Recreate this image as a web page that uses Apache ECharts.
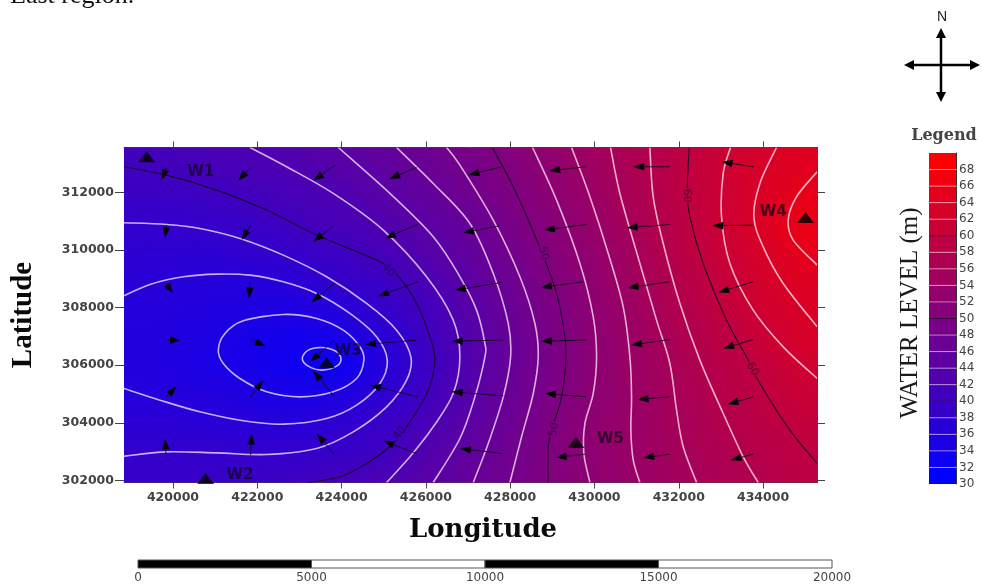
<!DOCTYPE html>
<html>
<head>
<meta charset="utf-8">
<style>html,body{margin:0;padding:0;background:#fff}#c{width:982px;height:585px}</style>
<script src="https://cdn.jsdelivr.net/npm/echarts@6/dist/echarts.min.js"></script>
</head>
<body>
<div id="c"></div>
<script>
// ---- axes ----
const xTicks = [420000,422000,424000,426000,428000,430000,432000,434000];
const yTicks = [302000,304000,306000,308000,310000,312000];
const xRange = [418838,435280];
const yRange = [301930,313555];
const legendTicks = [30,32,34,36,38,40,42,44,46,48,50,52,54,56,58,60,62,64,66,68];
const legendBands = [30,32,34,36,38,40,42,44,46,48,50,52,54,56,58,60,62,64,66,68];
const scaleTicks = [0,5000,10000,15000,20000];
const scaleSegments = [[0,5000,1],[5000,10000,0],[10000,15000,1],[15000,20000,0]];

const gridX = [419000,420000,421000,422000,423000,424000,425000,426000,427000,428000,429000,430000,431000,432000,433000,434000,435000];
const gridY = [302000,303000,304000,305000,306000,307000,308000,309000,310000,311000,312000,313000,313500];
const lvl302000 = [38.8,38.9,39.0,39.3,39.9,40.8,42,43.8,45.8,48,50.2,52.2,53.9,55.4,56.8,58.1,59.2];
const lvl303000 = [37.8,38,37.9,37.8,37.9,38.7,40,42.6,45,47.5,50.2,52.5,54.2,55.8,57.4,58.7,59.9];
const lvl304000 = [36.6,36.6,36.3,36.05,36,37.3,38.9,41.3,44.2,47,49.9,52.3,54.2,56,57.8,59.2,60.5];
const lvl305000 = [35.6,35.4,35.2,34.3,33.8,34.5,37.1,40,43.3,46.4,49.3,52.1,54.2,56.2,58.2,59.9,61.7];
const lvl306000 = [35.3,34.8,33.9,33.3,32.2,32,35.7,39.3,42.6,46,49,51.9,54.3,56.5,58.8,60.6,62.5];
const lvl307000 = [35.3,35,34.3,33.4,33,33.8,36.3,39.7,42.8,46.05,49.1,52,54.5,57.1,59.3,61.7,63.7];
const lvl308000 = [35.7,35.4,35,34.5,34.6,35.9,38.4,40.3,43.5,46.5,49.5,52.3,54.9,57.8,60,62.6,64.1];
const lvl309000 = [36.5,36,35.8,35.9,36.7,38.3,39.4,41.9,44.3,47.1,50.1,52.6,55.5,58.3,60.8,63.2,65];
const lvl310000 = [37.2,37.1,37.1,37.7,38.7,39.7,41.3,43.2,45.3,48.1,50.7,53.2,56,58.9,61.5,63.9,66.1];
const lvl311000 = [38.1,38.2,38.5,39.2,40.3,41.3,42.6,44.3,46,48.9,51.3,53.8,56.6,59.2,61.9,64.5,67];
const lvl312000 = [39.2,39.4,39.9,40.6,41.4,42.3,43.8,45.4,47.5,49.7,52,54.4,57,59.5,61.9,64.2,66.3];
const lvl313000 = [40.1,40.5,41,41.7,42.5,43.6,45,46.6,48.4,50.4,52.6,55,57.2,59.5,61.8,63.9,65.3];
const lvl313500 = [40.6,41,41.5,42.1,43.1,44.1,45.5,47.1,48.9,50.8,53,55.2,57.3,59.5,61.6,63.4,65];
const levelRows = [lvl302000,lvl303000,lvl304000,lvl305000,lvl306000,lvl307000,lvl308000,lvl309000,lvl310000,lvl311000,lvl312000,lvl313000,lvl313500];

// ---- contours, [longitude, latitude] ----
const contour32 = [[423068,306234],[423210,306523],[423526,306615],[423842,306500],[423985,306234],[423882,305967],[423526,305829],[423210,305967],[423068,306234]];
const contour34 = [[421075,306523],[421233,307101],[421668,307541],[422617,307761],[423408,307622],[424040,307217],[424435,306638],[424530,306176],[424357,305539],[423803,305077],[423012,304903],[422222,305077],[421589,305539],[421194,306060],[421075,306523]];
const contour36 = [[418837,308409],[419454,308802],[420245,309068],[421035,309161],[421826,309126],[422617,308895],[423408,308490],[424198,307796],[424831,306986],[425084,306176],[424910,305366],[424357,304614],[423645,304151],[422617,303954],[421668,304070],[420640,304382],[419691,304787],[418837,305192]];
const contour38 = [[418837,310942],[419849,310885],[420640,310746],[421589,310399],[422617,309820],[423645,309068],[424594,308143],[425305,307217],[425645,306291],[425542,305481],[425068,304556],[424277,303688],[423408,303110],[422222,302901],[421035,302959],[419849,302994],[418837,302844]];
const contour40 = [[418837,312886],[419849,312597],[421035,312076],[422222,311382],[423408,310515],[424910,309589],[425384,309010],[425780,308143],[426096,306986],[426215,306176],[426056,305134],[425701,304209],[425226,303283],[424594,302589],[423961,302126],[423210,301930]];
const contour42 = [[421826,313555],[422696,312886],[423803,311961],[424989,310688],[426017,309068],[426649,307564],[426807,306291],[426649,305019],[426175,303862],[425622,302820],[425068,301930]];
const contour44 = [[423922,313555],[425147,311961],[426175,310457],[426808,309068],[427203,307911],[427401,306754],[427401,306291],[427164,304903],[426808,303457],[426175,301930]];
const contour46 = [[425305,313555],[426175,312308],[427045,310919],[427599,309184],[427955,307448],[428010,306291],[427836,304903],[427480,303283],[427124,301930]];
const contour48 = [[426492,313555],[426808,312944],[427599,311035],[428231,309068],[428587,307448],[428666,306291],[428548,305019],[428271,303515],[427994,301930]];
const contour50 = [[427575,313555],[428073,312192],[428666,310225],[429101,308490],[429299,306986],[429322,306176],[429220,304903],[428982,303746],[428903,303168],[428903,301930]];
const contour52 = [[428532,313555],[429101,311729],[429655,309531],[429971,307680],[430050,306291],[429971,305019],[429773,303977],[429749,302936],[429892,301930]];
const contour54 = [[429457,313555],[429892,311845],[430327,309878],[430682,308027],[430841,306291],[430880,304903],[430864,303746],[430920,302705],[431078,301930]];
const contour56 = [[430382,313555],[430603,311961],[431078,309531],[431473,307564],[431789,306060],[431948,304440],[432106,303168],[432422,301930]];
const contour58 = [[431315,313555],[431394,311845],[431631,310225],[432027,308143],[432501,306176],[433055,304324],[433529,302820],[433885,301930]];
const contour60 = [[432248,313555],[432201,312076],[432264,311151],[432580,309531],[433134,307564],[433608,306291],[433925,305366],[434636,303746],[435284,302589]];
const contour62 = [[433228,313555],[433055,312655],[433015,311151],[433213,309531],[433766,307911],[434478,306638],[435284,305540]];
const contour64 = [[434320,313555],[433925,312308],[433782,311151],[434003,310109],[434478,308837],[435284,307333]];
const contour66 = [[435284,312713],[434794,311845],[434596,311035],[434715,310341],[435284,309473]];
const contourLevels = [32,34,36,38,40,42,44,46,48,50,52,54,56,58,60,62,64,66];
const contourLines = [contour32,contour34,contour36,contour38,contour40,contour42,contour44,contour46,contour48,contour50,contour52,contour54,contour56,contour58,contour60,contour62,contour64,contour66];
// [lon, lat, text, level, angle]
const contourLabels = [[425108,309300,'40',40,-50],[425384,303653,'40',40,50],[428785,309878,'50',50,-75],[429046,303769,'50',50,80],[432185,311880,'60',60,-90],[433750,305863,'60',60,-60]];

// ---- flow arrows: [tail lon, tail lat, head lon, head lat] ----
const flowRow1 = [[419849,312863,419731,312424],[421842,312863,421549,312400],[423842,312944,423328,312400],[425780,312863,425131,312458],[427796,312886,427006,312597],[429797,312886,428927,312747],[431789,312886,430920,312886],[433782,312886,433015,313060]];
const flowRow2 = [[419849,310862,419810,310422],[421842,310862,421628,310341],[423803,310838,423328,310283],[425819,310896,425029,310399],[427741,310838,426887,310595],[429813,310885,428801,310688],[431789,310885,430762,310769],[433766,310862,432794,310838]];
const flowRow3 = [[419834,308837,419992,308513],[421826,308895,421810,308316],[423842,308860,423289,308189],[425819,308895,424870,308397],[427796,308871,426689,308605],[429734,308895,428729,308698],[431789,308895,430785,308686],[433766,308895,432936,308524]];
const flowRow4 = [[419889,306870,420166,306870],[421842,306893,422206,306662],[423827,306870,423249,306118],[425780,306870,424554,306720],[427836,306870,426610,306835],[429797,306870,428729,306835],[431789,306893,430864,306696],[433766,306893,433055,306581]];
const flowRow5 = [[419834,304903,420087,305273],[421842,304903,422142,305481],[423803,304961,423328,305805],[425819,304903,424673,305308],[427836,304938,426610,305077],[429797,304903,428824,305019],[431789,304903,431022,304810],[433782,304903,433157,304648]];
const flowRow6 = [[419834,302913,419810,303457],[421842,302878,421866,303630],[423827,302913,423408,303630],[425780,302936,424989,303376],[427820,302936,426808,303110],[429773,302913,429077,302797],[431789,302913,431157,302786],[433766,302913,433228,302705]];

// ---- wells ----
const wells = [[419375,313233],[420775,302068],[423645,306083],[435008,311128],[429560,303318]];
const wellNames = ['W1','W2','W3','W4','W5'];
const wellNamePos = [[420656,312713],[421589,302184],[424159,306500],[434241,311324],[430382,303422]];

// ---- helpers ----
function ramp(v){
  const t = Math.max(0,Math.min(1,(v-30)/40));
  return 'rgb('+Math.round(255*t)+',0,'+Math.round(255*(1-t))+')';
}
const LON = xRange, LAT = yRange;

const fieldSeries = {
  type:'custom', xAxisIndex:0, yAxisIndex:0, z:1, silent:true, animation:false,
  data: gridY.slice(0,-1).map((y,i)=>[i]),
  encode:{x:[],y:[]},
  renderItem(params, api){
    const i = api.value(0);
    const children = [];
    const x0 = api.coord([gridX[0],gridY[0]])[0];
    const x1 = api.coord([gridX[gridX.length-1],gridY[0]])[0];
    const left = api.coord([LON[0],gridY[0]])[0];
    const right = api.coord([LON[1],gridY[0]])[0];
    const yLow = i===0 ? LAT[0] : gridY[i];
    const yHigh = i===gridY.length-2 ? LAT[1] : gridY[i+1];
    const pyLow = api.coord([LON[0],yLow])[1];
    const pyHigh = api.coord([LON[0],yHigh])[1];
    const n = Math.max(1,Math.ceil((pyLow-pyHigh)/3));
    for(let k=0;k<n;k++){
      const f = Math.max(0,Math.min(1,((yLow+(yHigh-yLow)*(k+0.5)/n)-gridY[i])/(gridY[i+1]-gridY[i])));
      const stops = gridX.map((x,c)=>({
        offset:c/(gridX.length-1),
        color:ramp(levelRows[i][c]*(1-f)+levelRows[i+1][c]*f)
      }));
      const top = pyLow+(pyHigh-pyLow)*(k+1)/n;
      const bot = pyLow+(pyHigh-pyLow)*k/n;
      children.push({type:'rect',silent:true,
        shape:{x:left,y:top,width:right-left,height:bot-top+(k===0&&i===0?0:0.8)},
        style:{fill:new echarts.graphic.LinearGradient(x0,0,x1,0,stops,true)}});
    }
    return {type:'group',children};
  }
};

function splinePath(pts){
  const closed = pts[0][0]===pts[pts.length-1][0] && pts[0][1]===pts[pts.length-1][1];
  const n = pts.length;
  const at = i => closed ? pts[((i%(n-1))+(n-1))%(n-1)] : pts[Math.max(0,Math.min(n-1,i))];
  let d = 'M'+pts[0][0]+' '+pts[0][1];
  for(let i=0;i<n-1;i++){
    const p0=at(i-1),p1=at(i),p2=at(i+1),p3=at(i+2);
    d += 'C'+(p1[0]+(p2[0]-p0[0])/6)+' '+(p1[1]+(p2[1]-p0[1])/6)+' '+
             (p2[0]-(p3[0]-p1[0])/6)+' '+(p2[1]-(p3[1]-p1[1])/6)+' '+p2[0]+' '+p2[1];
  }
  return d;
}
const contourSeries = {
  type:'custom',name:'contours',xAxisIndex:0,yAxisIndex:0,z:2,silent:true,animation:false,
  data:contourLevels.map((lv,i)=>[i,lv]),encode:{x:[],y:[]},
  renderItem(params,api){
    const i=api.value(0),lv=api.value(1),major=lv%10===0;
    const pix=contourLines[i].map(p=>api.coord(p));
    const cs=params.coordSys;
    return {type:'path',silent:true,
      shape:{pathData:splinePath(pix)},
      style:{fill:'none',stroke:major?'rgba(25,0,35,0.9)':'rgba(255,235,245,0.75)',lineWidth:major?1.1:1.6},
      clipPath:{type:'rect',shape:{x:cs.x,y:cs.y,width:cs.width,height:cs.height}}};
  }
};

const contourLabelSeries = {
  type:'scatter',xAxisIndex:0,yAxisIndex:0,z:3,symbolSize:0,silent:true,animation:false,
  data:contourLabels.map(l=>({value:[l[0],l[1]],label:{
    show:true,position:'inside',formatter:l[2],rotate:l[4],color:'rgba(30,0,50,0.8)',
    fontFamily:'DejaVu Sans',fontSize:11,backgroundColor:ramp(l[3]),padding:[0,1]}}))
};

const flows = [].concat(flowRow1,flowRow2,flowRow3,flowRow4,flowRow5,flowRow6);
const arrowSeries = {
  type:'custom',xAxisIndex:0,yAxisIndex:0,z:4,silent:true,animation:false,
  data:flows,encode:{x:[0,2],y:[1,3]},
  renderItem(params,api){
    const t = api.coord([api.value(0),api.value(1)]);
    const h = api.coord([api.value(2),api.value(3)]);
    const dx=h[0]-t[0],dy=h[1]-t[1],len=Math.hypot(dx,dy)||1,ux=dx/len,uy=dy/len;
    const L=Math.min(11,len*0.85),W=3.8;
    const bx=h[0]-ux*L,by=h[1]-uy*L;
    return {type:'group',children:[
      {type:'line',shape:{x1:t[0],y1:t[1],x2:bx,y2:by},style:{stroke:'#14061c',lineWidth:0.9}},
      {type:'polygon',shape:{points:[h,[bx-uy*W,by+ux*W],[bx+uy*W,by-ux*W]]},style:{fill:'#050208'}}
    ]};
  }
};

const wellSeries = {
  type:'scatter',xAxisIndex:0,yAxisIndex:0,z:5,clip:true,silent:true,animation:false,
  symbol:'triangle',symbolSize:[17,11],itemStyle:{color:'#000'},data:wells
};
const wellNameSeries = {
  type:'scatter',xAxisIndex:0,yAxisIndex:0,z:5,symbolSize:0,silent:true,animation:false,
  data:wellNamePos.map((p,i)=>({value:p,label:{show:true,position:'inside',formatter:wellNames[i],
    color:'rgba(10,0,20,0.85)',fontFamily:'DejaVu Sans',fontWeight:'bold',fontSize:15}}))
};

const legendSeries = {
  type:'custom',xAxisIndex:2,yAxisIndex:3,z:2,silent:true,animation:false,
  data:legendBands.map(v=>[v]),encode:{y:0,x:[]},
  renderItem(params,api){
    const v=api.value(0);
    const a=api.coord([0,v]),b=api.coord([1,v+2]);
    const major=v%10===0;
    const kids=[{type:'rect',shape:{x:a[0],y:b[1],width:b[0]-a[0],height:a[1]-b[1]},
      style:{fill:ramp(30+(v-30)*40/38)}}];
    if(v>30) kids.push({type:'line',shape:{x1:a[0],y1:a[1],x2:b[0]+(major?0:2),y2:a[1]},
      style:{stroke:major?'rgba(30,0,40,0.8)':'rgba(255,235,245,0.5)',lineWidth:1}});
    return {type:'group',children:kids};
  }
};

const scaleSeries = {
  type:'custom',xAxisIndex:3,yAxisIndex:4,z:2,silent:true,animation:false,
  data:scaleSegments,encode:{x:[0,1],y:[]},
  renderItem(params,api){
    const a=api.coord([api.value(0),0]),b=api.coord([api.value(1),1]);
    return {type:'rect',shape:{x:a[0],y:b[1],width:b[0]-a[0],height:a[1]-b[1]},
      style:{fill:api.value(2)?'#000':'#fff',stroke:'#555',lineWidth:1}};
  }
};

const tickFont = {fontFamily:'DejaVu Sans',fontWeight:'bold',fontSize:12.5,color:'#444'};
const axisLine = {show:true,onZero:false,lineStyle:{color:'#444',width:1}};

const option = {
  backgroundColor:'#fff',
  animation:false,
  grid:[
    {left:124,top:147.5,width:693,height:335},
    {left:929,top:153,width:27,height:331},
    {left:138,top:560,width:694,height:8}
  ],
  xAxis:[
    {type:'value',gridIndex:0,position:'bottom',min:xRange[0],max:xRange[1],splitLine:{show:false},
      axisLine,axisTick:{show:true,length:6,customValues:xTicks,lineStyle:{color:'#444'}},
      axisLabel:Object.assign({show:true,margin:9,customValues:xTicks,formatter:v=>String(v)},tickFont),
      name:'Longitude',nameLocation:'middle',nameGap:35,
      nameTextStyle:{fontFamily:'DejaVu Serif',fontWeight:'bold',fontSize:26,color:'#0a0a0a',padding:[0,0,0,25]}},
    {type:'value',gridIndex:0,position:'top',min:xRange[0],max:xRange[1],splitLine:{show:false},
      axisLine,axisTick:{show:true,length:6,customValues:xTicks,lineStyle:{color:'#444'}},axisLabel:{show:false}},
    {type:'value',gridIndex:1,min:0,max:1,show:false,splitLine:{show:false}},
    {type:'value',gridIndex:2,position:'bottom',min:0,max:20000,splitLine:{show:false},
      axisLine:{show:false},axisTick:{show:false},
      axisLabel:{show:true,margin:4,customValues:scaleTicks,formatter:v=>String(v),fontFamily:'DejaVu Sans',fontSize:12,color:'#444'}}
  ],
  yAxis:[
    {type:'value',gridIndex:0,position:'left',min:yRange[0],max:yRange[1],splitLine:{show:false},
      axisLine,axisTick:{show:true,length:9,customValues:yTicks,lineStyle:{color:'#444'}},
      axisLabel:Object.assign({show:true,margin:10,customValues:yTicks,formatter:v=>String(v)},tickFont),
      name:'Latitude',nameLocation:'middle',nameGap:86,
      nameTextStyle:{fontFamily:'Liberation Serif',fontWeight:'bold',fontSize:29,color:'#0a0a0a'}},
    {type:'value',gridIndex:0,position:'right',min:yRange[0],max:yRange[1],splitLine:{show:false},
      axisLine,axisTick:{show:true,length:8,customValues:yTicks,lineStyle:{color:'#444'}},axisLabel:{show:false}},
    {type:'value',gridIndex:1,position:'left',min:0,max:1,show:false,splitLine:{show:false}},
    {type:'value',gridIndex:1,position:'right',min:30,max:70,splitLine:{show:false},
      axisLine:{show:true,onZero:false,lineStyle:{color:'#333',width:1}},axisTick:{show:false},
      axisLabel:{show:true,margin:3,customValues:legendTicks,formatter:v=>String(v),fontFamily:'DejaVu Sans',fontSize:12,color:'#444'}},
    {type:'value',gridIndex:2,min:0,max:1,show:false,splitLine:{show:false}}
  ],
  graphic:[
    {type:'text',left:10,top:-17,style:{text:'East region.',font:'26px "Liberation Serif"',fill:'#111'}},
    {type:'text',x:942,y:17,style:{text:'N',font:'14px "Liberation Sans"',fill:'#222',align:'center',verticalAlign:'middle'}},
    {type:'line',shape:{x1:941,y1:34,x2:941,y2:96},style:{stroke:'#000',lineWidth:2.5}},
    {type:'line',shape:{x1:911,y1:65,x2:973,y2:65},style:{stroke:'#000',lineWidth:2.5}},
    {type:'polygon',shape:{points:[[941,28],[936,38],[946,38]]},style:{fill:'#000'}},
    {type:'polygon',shape:{points:[[941,102],[936,92],[946,92]]},style:{fill:'#000'}},
    {type:'polygon',shape:{points:[[904,65],[914,60],[914,70]]},style:{fill:'#000'}},
    {type:'polygon',shape:{points:[[980,65],[970,60],[970,70]]},style:{fill:'#000'}},
    {type:'text',x:944,y:136,style:{text:'Legend',font:'bold 16px "DejaVu Serif"',fill:'#444',align:'center',verticalAlign:'middle'}},
    {type:'text',x:910,y:313,rotation:Math.PI/2,style:{text:'WATER LEVEL (m)',font:'25px "Liberation Serif"',fill:'#1a1a1a',align:'center',verticalAlign:'middle'}}
  ],
  series:[fieldSeries,contourSeries,contourLabelSeries,arrowSeries,wellSeries,wellNameSeries,legendSeries,scaleSeries]
};
const chart = echarts.init(document.getElementById('c'),null,{renderer:'canvas',width:982,height:585});
chart.setOption(option);
</script>
</body>
</html>
